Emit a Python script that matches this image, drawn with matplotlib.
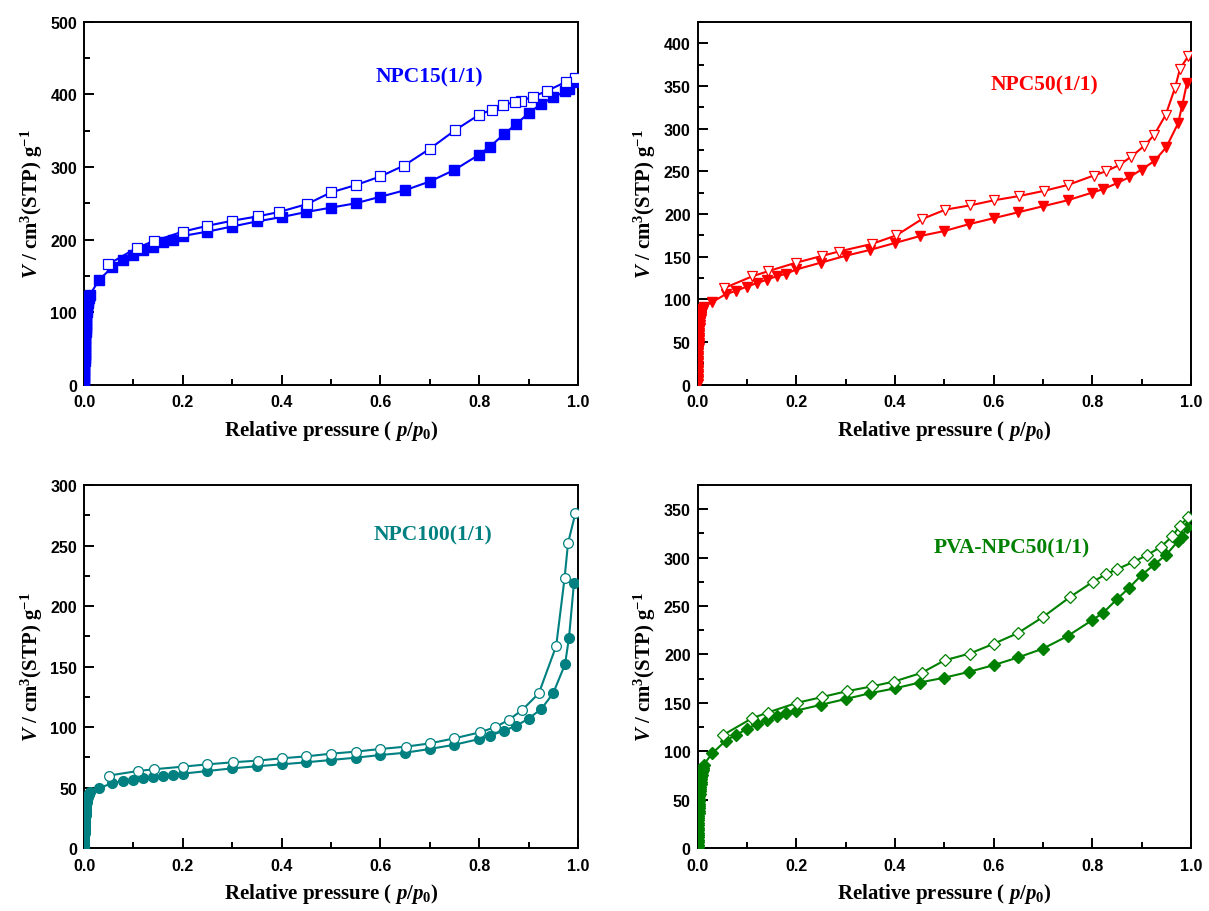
import matplotlib
matplotlib.use("Agg")
import matplotlib.pyplot as plt
from matplotlib.ticker import MultipleLocator

plt.rcParams["mathtext.fontset"] = "custom"
plt.rcParams["mathtext.rm"] = "Liberation Serif:bold"
plt.rcParams["mathtext.it"] = "Liberation Serif:italic:bold"
plt.rcParams["mathtext.bf"] = "Liberation Serif:bold"

# low-pressure part of the adsorption branch (shared relative pressures)
LOW_P = [0.0001, 0.0002, 0.0003, 0.0004, 0.0005, 0.0006, 0.0007, 0.0009, 0.001, 0.0012,
         0.0013, 0.0015, 0.0016, 0.0018, 0.002, 0.0023, 0.0025, 0.0028, 0.003, 0.0033,
         0.0035, 0.0038, 0.004, 0.0045, 0.005, 0.0055, 0.006, 0.0065, 0.007, 0.0075,
         0.008, 0.009, 0.01, 0.011, 0.012]
ADS_P = [0.03, 0.057, 0.078, 0.10, 0.12, 0.14, 0.16, 0.18, 0.20, 0.25, 0.30, 0.35, 0.40,
         0.45, 0.50, 0.55, 0.60, 0.65, 0.70, 0.75, 0.80, 0.822, 0.85, 0.875, 0.90, 0.926,
         0.95, 0.974, 0.982, 0.992]

# NPC15(1/1)
npc15_low = [1, 5, 9, 13, 17, 21, 25, 29, 33, 37, 41, 45, 49, 53, 57, 61, 65, 69, 73, 77,
             81, 85, 89, 93, 97, 100, 104, 107, 110, 113, 115, 118, 120, 122, 124]
npc15_ads = [144, 162, 172, 179, 185, 190, 196, 200, 205, 211, 218, 225, 231, 238, 244, 250,
             259, 268, 280, 296, 317, 328, 345, 359, 374, 387, 396, 404, 408, 417]
npc15_des_p = [0.995, 0.975, 0.938, 0.91, 0.884, 0.872, 0.848, 0.826, 0.80, 0.752, 0.70, 0.648,
               0.60, 0.55, 0.50, 0.452, 0.395, 0.352, 0.30, 0.25, 0.20, 0.142, 0.108, 0.049]
npc15_des = [423, 417, 405, 397, 391, 389, 386, 379, 372, 351, 325, 302, 287, 275, 265, 249,
             238, 232, 226, 219, 211, 198, 189, 166]

# NPC50(1/1)
npc50_low = [1, 4, 7, 10, 13, 16, 19, 22, 25, 28, 31, 34, 37, 40, 43, 46, 49, 52, 55, 58,
             61, 64, 67, 70, 73, 75, 77, 79, 81, 83, 85, 87, 88, 89, 91]
npc50_ads = [97, 106, 110, 115, 119, 123, 127, 130, 135, 143, 151, 158, 166, 174, 180, 188,
             195, 202, 209, 216, 225, 229, 236, 243, 252, 262, 278, 306, 326, 353]
npc50_des_p = [0.995, 0.978, 0.968, 0.949, 0.925, 0.904, 0.879, 0.854, 0.828, 0.803, 0.751,
               0.702, 0.652, 0.601, 0.552, 0.502, 0.455, 0.403, 0.354, 0.286, 0.253, 0.20,
               0.143, 0.111, 0.053]
npc50_des = [385, 370, 348, 316, 292, 279, 267, 257, 250, 245, 234, 227, 221, 216, 210, 205,
             194, 175, 165, 156, 151, 143, 133, 127, 113]

# NPC100(1/1)
npc100_low = [0.5, 2, 3.5, 5, 6.5, 8, 9.5, 11, 12.5, 14, 15.5, 17, 18.5, 20, 21.5, 23, 24.5,
              26, 27.5, 29, 30.5, 32, 33.5, 35, 36.5, 38, 39, 40, 41, 42, 43, 44, 44.5, 45,
              46]
npc100_ads = [49.5, 53.6, 55.5, 56.3, 57.7, 58.8, 59.6, 60.4, 61.5, 63.7, 65.9, 67.6, 69.2,
              70.9, 72.8, 74.7, 76.9, 78.8, 81.9, 85.4, 90.1, 92.9, 97, 101, 107, 115, 128,
              152, 174, 219]
npc100_des_p = [0.995, 0.98, 0.973, 0.956, 0.921, 0.887, 0.86, 0.833, 0.801, 0.75, 0.70,
                0.651, 0.60, 0.55, 0.50, 0.45, 0.40, 0.352, 0.301, 0.25, 0.20, 0.141, 0.109,
                0.05]
npc100_des = [277, 252, 223, 167, 128, 114, 106, 100, 95.6, 90.7, 86.5, 83.8, 81.9, 79.7,
              78, 75.8, 74.2, 72.3, 70.9, 69.2, 67.3, 65.1, 63.7, 59.9]

# PVA-NPC50(1/1)
pva_low = [1, 3.5, 6, 8.5, 11, 13.5, 16, 18.5, 21, 23.5, 26, 28.5, 31, 33.5, 36, 38.5, 41,
           43.5, 46, 48.5, 51, 53.5, 56, 58.5, 61, 63.5, 66, 68.5, 71, 73.5, 76, 79, 81, 83,
           86]
pva_ads = [98, 111, 117, 123, 128, 132, 136, 140, 142, 148, 154, 160, 165, 171, 176, 182,
           189, 197, 206, 219, 235.5, 243, 257, 269, 282, 293, 303, 317, 321, 332]
pva_des_p = [0.995, 0.978, 0.962, 0.939, 0.912, 0.885, 0.85, 0.828, 0.801, 0.754, 0.701,
             0.649, 0.60, 0.552, 0.501, 0.454, 0.398, 0.353, 0.302, 0.252, 0.201, 0.142,
             0.11, 0.051]
pva_des = [342, 333, 322, 311, 303, 296, 288, 283, 275, 259, 239, 222, 211, 201, 194, 181,
           172, 167, 162, 156, 150, 140, 134, 116.6]

panels = [
    # name, colour, marker, low, ads, des_p, des, ylim, major, minor, text xy, axes rect
    ("NPC15(1/1)", "#0000FF", "s", npc15_low, npc15_ads, npc15_des_p, npc15_des,
     500, 100, 50, (0.59, 424), [0.0695, 0.577, 0.4085, 0.398]),
    ("NPC50(1/1)", "#FF0000", "v", npc50_low, npc50_ads, npc50_des_p, npc50_des,
     425, 50, 25, (0.593, 352), [0.577, 0.577, 0.408, 0.398]),
    ("NPC100(1/1)", "#008080", "o", npc100_low, npc100_ads, npc100_des_p, npc100_des,
     300, 50, 25, (0.587, 259), [0.0695, 0.069, 0.4085, 0.398]),
    ("PVA-NPC50(1/1)", "#008000", "D", pva_low, pva_ads, pva_des_p, pva_des,
     375, 50, 25, (0.479, 311), [0.577, 0.069, 0.408, 0.398]),
]

fig = plt.figure(figsize=(12.09, 9.12), dpi=100)

for name, c, mk, low, ads, des_p, des, ymax, major, minor, txy, rect in panels:
    ax = fig.add_axes(rect)
    ms = 7 if mk != "D" else 6
    ax.plot(LOW_P + ADS_P, low + ads, color=c, lw=1.5, marker=mk, ms=ms,
            mfc=c, mec=c, zorder=3)
    ax.plot(des_p, des, color=c, lw=1.5, marker=mk, ms=ms,
            mfc="white", mec=c, mew=0.9, zorder=4)
    ax.set_xlim(0, 1.0)
    ax.set_ylim(0, ymax)
    ax.xaxis.set_major_locator(MultipleLocator(0.2))
    ax.xaxis.set_minor_locator(MultipleLocator(0.1))
    ax.yaxis.set_major_locator(MultipleLocator(major))
    ax.yaxis.set_minor_locator(MultipleLocator(minor))
    ax.tick_params(which="both", direction="in", width=1.4, top=False, right=False)
    ax.tick_params(which="major", length=7)
    ax.tick_params(which="minor", length=4)
    ax.tick_params(axis="x", pad=7)
    ax.tick_params(axis="y", pad=5)
    for lab in ax.get_xticklabels() + ax.get_yticklabels():
        lab.set_fontfamily("Liberation Sans")
        lab.set_fontweight("bold")
        lab.set_fontsize(11.5)
    for sp in ax.spines.values():
        sp.set_linewidth(1.4)
    ax.set_xlabel(r"Relative pressure ( $p/p_0$)", fontfamily="Liberation Serif",
                  fontweight="bold", fontsize=15, labelpad=6)
    ax.set_ylabel(r"$V$ / cm$^3$(STP) g$^{-1}$", fontfamily="Liberation Serif",
                  fontweight="bold", fontsize=15, labelpad=4)
    ax.text(txy[0], txy[1], name, color=c, fontfamily="Liberation Serif",
            fontweight="bold", fontsize=15.5, ha="left", va="center")

fig.savefig("out.png", dpi=100)
